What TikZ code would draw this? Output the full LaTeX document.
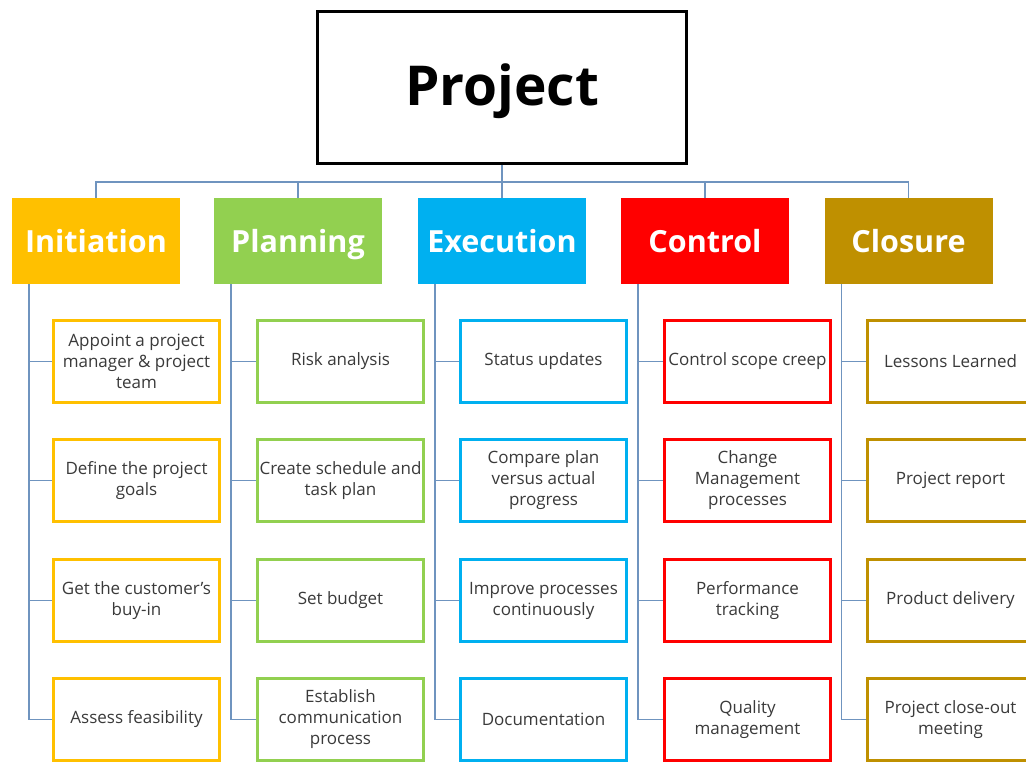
\documentclass[tikz,border=0pt]{standalone}
\usepackage{fontspec}
\setmainfont{Open Sans}
\definecolor{jaune}{HTML}{FFC000}
\definecolor{vert}{HTML}{92D050}
\definecolor{bleu}{HTML}{00B0F0}
\definecolor{rouge}{HTML}{FF0000}
\definecolor{ocre}{HTML}{BF9000}
\definecolor{trait}{HTML}{6F94BF}
\definecolor{texte}{HTML}{3A3A3A}
\begin{document}
\begin{tikzpicture}[x=1pt,y=-1pt]
\tikzstyle{lien}=[draw=trait,line width=1.5pt]
\tikzset{phase/.style={fill=#1,text=white,inner sep=0pt,text height=23pt,text depth=0pt,
minimum width=168pt,minimum height=86pt,font=\fontsize{30.5}{34}\selectfont\bfseries},
tache/.style={draw=#1,line width=3pt,fill=white,text=texte,align=center,inner sep=0pt,
minimum width=166pt,minimum height=82pt,font=\fontsize{17}{21}\selectfont}}
\clip (0,0) rectangle (1026,762);
\fill[white] (0,0) rectangle (1026,762);

\node[draw,line width=3pt,minimum width=369pt,minimum height=152pt,text height=39pt,text depth=2pt,
font=\fontsize{55}{60}\selectfont\bfseries] (P) at (502,87.5) {Project};

\node[phase=jaune] (A) at (96,241) {Initiation};
\node[phase=vert] (B) at (298,241) {Planning};
\node[phase=bleu] (C) at (502,241) {Execution};
\node[phase=rouge] (D) at (705,241) {Control};
\node[phase=ocre] (E) at (908.5,241) {Closure};

\node[tache=jaune] (A1) at (136.5,361.5) {Appoint a project\\manager \& project\\team};
\node[tache=jaune] (A2) at (136.5,480.5) {Define the project\\goals};
\node[tache=jaune] (A3) at (136.5,600.5) {Get the customer’s\\buy-in};
\node[tache=jaune] (A4) at (136.5,719.5) {Assess feasibility};

\node[tache=vert] (B1) at (340.5,361.5) {Risk analysis};
\node[tache=vert] (B2) at (340.5,480.5) {Create schedule and\\task plan};
\node[tache=vert] (B3) at (340.5,600.5) {Set budget};
\node[tache=vert] (B4) at (340.5,719.5) {Establish\\communication\\process};

\node[tache=bleu] (C1) at (543.5,361.5) {Status updates};
\node[tache=bleu] (C2) at (543.5,480.5) {Compare plan\\versus actual\\progress};
\node[tache=bleu] (C3) at (543.5,600.5) {Improve processes\\continuously};
\node[tache=bleu] (C4) at (543.5,719.5) {Documentation};

\node[tache=rouge] (D1) at (747.5,361.5) {Control scope creep};
\node[tache=rouge] (D2) at (747.5,480.5) {Change\\Management\\processes};
\node[tache=rouge] (D3) at (747.5,600.5) {Performance\\tracking};
\node[tache=rouge] (D4) at (747.5,719.5) {Quality\\management};

\node[tache=ocre] (E1) at (950.5,361.5) {Lessons Learned};
\node[tache=ocre] (E2) at (950.5,480.5) {Project report};
\node[tache=ocre] (E3) at (950.5,600.5) {Product delivery};
\node[tache=ocre] (E4) at (950.5,719.5) {Project close-out\\meeting};

% liens
\coordinate (bus) at (502,182);
\draw[lien] (P.south) -- (bus);
\foreach \h in {A,B,C,D,E} {
  \draw[lien] (bus) -| (\h.north);
  \foreach \i in {1,...,4}
    \draw[lien] ([xshift=17pt]\h.south west) |- (\h\i.west);
}

\end{tikzpicture}
\end{document}
